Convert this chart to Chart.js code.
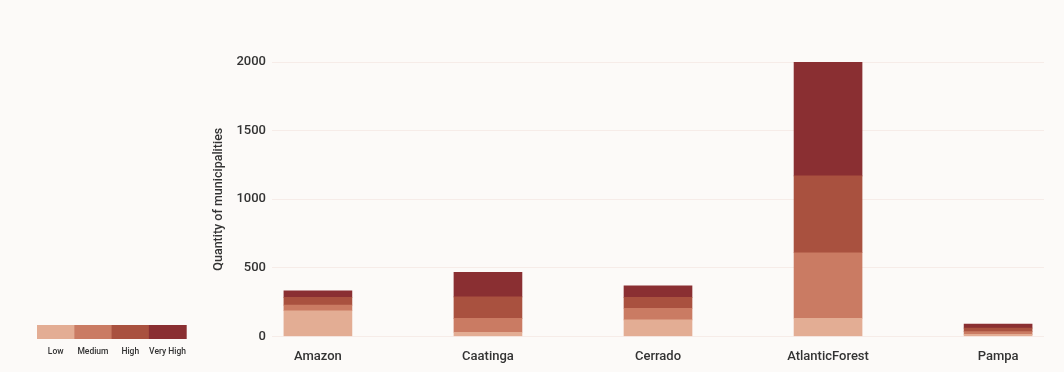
<!DOCTYPE html>
<html>
<head>
<meta charset="utf-8">
<script src="https://cdn.jsdelivr.net/npm/chart.js@4.4.1/dist/chart.umd.min.js"></script>
<style>
  html, body { margin: 0; padding: 0; background: #fcfaf8; }
  #wrap { width: 1064px; height: 372px; position: relative; }
</style>
</head>
<body>
<div id="wrap"><canvas id="c"></canvas></div>
<script>
const biomes   = ['Amazon', 'Caatinga', 'Cerrado', 'AtlanticForest', 'Pampa']
const levels   = ['Low', 'Medium', 'High', 'Very High']
const low      = [187, 30, 120, 132, 15]
const medium   = [41, 101, 85, 478, 20]
const high     = [56, 157, 80, 560, 25]
const veryHigh = [48, 179, 84, 828, 30]
const yTicks   = [0, 500, 1000, 1500, 2000]

const COLORS = ['#e3ad94', '#ca7b63', '#a9513f', '#8a2f32']
const FAMILY = 'Roboto, sans-serif'
const INK = '#333333'

const series = [low, medium, high, veryHigh]

const bg = {
  id: 'bg',
  beforeDraw(chart) {
    const { ctx, width, height } = chart
    ctx.save()
    ctx.fillStyle = '#fcfaf8'
    ctx.fillRect(0, 0, width, height)
    ctx.restore()
  },
}

// colour-bar legend at bottom left
const barLegend = {
  id: 'barLegend',
  afterDraw(chart) {
    const { ctx } = chart
    const x0 = 37, y0 = 325, w = 37.3, h = 14
    ctx.save()
    levels.forEach((lv, i) => {
      ctx.fillStyle = COLORS[i]
      ctx.fillRect(x0 + i * w, y0, w + 0.5, h)
      ctx.fillStyle = INK
      ctx.font = '500 8.5px ' + FAMILY
      ctx.textAlign = 'center'
      ctx.textBaseline = 'middle'
      ctx.fillText(lv, x0 + i * w + w / 2, 352)
    })
    ctx.restore()
  },
}

new Chart(document.getElementById('c'), {
  type: 'bar',
  data: {
    datasets: series.map((vals, i) => ({
      label: levels[i],
      data: vals.map((v, j) => ({ x: j, y: v })),
      backgroundColor: COLORS[i],
      borderWidth: 0,
      barThickness: 68,
    })),
  },
  options: {
    responsive: true,
    maintainAspectRatio: false,
    animation: false,
    layout: { padding: { left: 205, right: 20, top: 62, bottom: 2 } },
    plugins: { legend: { display: false }, tooltip: { enabled: false } },
    scales: {
      x: {
        type: 'linear',
        stacked: true,
        offset: false,
        min: -0.27,
        max: 4.27,
        grid: { display: false },
        border: { display: false },
        afterBuildTicks(scale) { scale.ticks = biomes.map((b, i) => ({ value: i })) },
        ticks: {
          color: INK,
          font: { family: FAMILY, size: 13, weight: '500' },
          padding: 5,
          maxRotation: 0,
          autoSkip: false,
          callback: v => biomes[v] ?? '',
        },
      },
      y: {
        stacked: true,
        min: 0,
        max: 2000,
        afterBuildTicks(scale) { scale.ticks = yTicks.map(v => ({ value: v })) },
        afterFit(scale) { scale.width = 67 },
        grid: { color: '#f6ece8', drawTicks: false },
        border: { display: false },
        ticks: {
          color: INK,
          font: { family: FAMILY, size: 13, weight: '500' },
          padding: 6,
          callback: v => String(v),
        },
        title: {
          display: true,
          text: 'Quantity of municipalities',
          color: INK,
          font: { family: FAMILY, size: 12.5, weight: '500' },
          padding: { top: 6, bottom: 0 },
        },
      },
    },
  },
  plugins: [bg, barLegend],
})
</script>
</body>
</html>
